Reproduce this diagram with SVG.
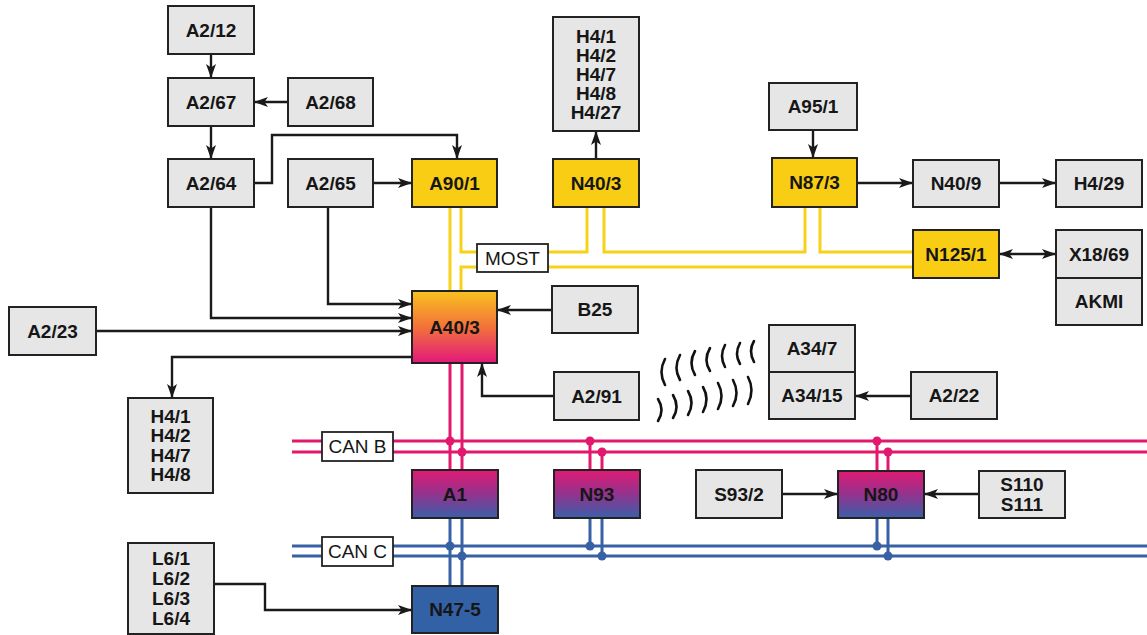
<svg xmlns="http://www.w3.org/2000/svg" width="1147" height="635" viewBox="0 0 1147 635">
<defs>
<linearGradient id="gA40" x1="0" y1="0" x2="0" y2="1">
<stop offset="0" stop-color="#f8c21e"/><stop offset="0.5" stop-color="#f2723a"/><stop offset="1" stop-color="#e3187c"/>
</linearGradient>
<linearGradient id="gCan" x1="0" y1="0" x2="0" y2="1">
<stop offset="0" stop-color="#e01a72"/><stop offset="0.5" stop-color="#93338e"/><stop offset="1" stop-color="#3a5fa9"/>
</linearGradient>
<marker id="arr" viewBox="0 0 14 10" refX="14" refY="5" markerWidth="14" markerHeight="10" markerUnits="userSpaceOnUse" orient="auto-start-reverse">
<path d="M0,0 L14,5 L0,10 L3.5,5 Z" fill="#1a1a1a"/>
</marker>
</defs>
<style>
.box{stroke:#222;stroke-width:2}
.gray{fill:#e6e6e6}
.yel{fill:#f8cd14}
.lbl{fill:#fff;stroke:#222;stroke-width:1.8}
text{font-family:"Liberation Sans",Arial,sans-serif;fill:#161616;text-anchor:middle}
.b{font-weight:bold;font-size:19px}
.r{font-size:19px}
.con{fill:none;stroke:#1a1a1a;stroke-width:2.4}
.most{fill:none;stroke:#f7d21a;stroke-width:3}
.pink{fill:none;stroke:#e2186f;stroke-width:3}
.blue{fill:none;stroke:#3861a5;stroke-width:3}
.pd{fill:#e2186f}
.bd{fill:#3861a5}
.wave{fill:none;stroke:#111;stroke-width:2.6;stroke-linecap:round}
</style>
<rect width="1147" height="635" fill="#fff"/>

<g id="buses">
<path class="pink" d="M292,441 H1147 M292,452 H1147 M450,363 V470 M462,363 V470 M590,441 V470 M602,452 V470 M877,441 V471 M888,452 V471"/>
<g class="pd"><circle cx="450" cy="441" r="4.5"/><circle cx="462" cy="452" r="4.5"/><circle cx="590" cy="441" r="4.5"/><circle cx="602" cy="452" r="4.5"/><circle cx="877" cy="441" r="4.5"/><circle cx="888" cy="452" r="4.5"/></g>
<path class="blue" d="M292,546 H1147 M292,556 H1147 M450,518 V586 M462,518 V586 M590,518 V546 M602,518 V556 M877,518 V546 M888,518 V556"/>
<g class="bd"><circle cx="450" cy="546" r="4.5"/><circle cx="462" cy="556" r="4.5"/><circle cx="590" cy="546" r="4.5"/><circle cx="602" cy="556" r="4.5"/><circle cx="877" cy="546" r="4.5"/><circle cx="888" cy="556" r="4.5"/></g>
<path class="most" d="M450,207 V291 M461,207 V252 H477 M461,291 V267 H477 M548,252 H587 V207 M604,207 V252 H805 V207 M548,267 H913 M820,207 V252 H913"/>
</g>

<g id="connectors">
<path class="con" marker-end="url(#arr)" d="M211,54 V78"/>
<path class="con" marker-end="url(#arr)" d="M288,102 H254"/>
<path class="con" marker-end="url(#arr)" d="M211,126 V159"/>
<path class="con" marker-end="url(#arr)" d="M254,183 H272 V135 H457 V159"/>
<path class="con" marker-end="url(#arr)" d="M373,183 H412"/>
<path class="con" marker-end="url(#arr)" d="M211,207 V318 H412"/>
<path class="con" marker-end="url(#arr)" d="M328,207 V304 H412"/>
<path class="con" marker-end="url(#arr)" d="M96,331 H412"/>
<path class="con" marker-end="url(#arr)" d="M412,357 H172 V398"/>
<path class="con" marker-end="url(#arr)" d="M552,310 H497"/>
<path class="con" marker-end="url(#arr)" d="M554,396 H482 V363"/>
<path class="con" marker-end="url(#arr)" d="M596,159 V131"/>
<path class="con" marker-end="url(#arr)" d="M813,130 V158"/>
<path class="con" marker-end="url(#arr)" d="M857,183 H913"/>
<path class="con" marker-end="url(#arr)" d="M999,183 H1056"/>
<path class="con" marker-start="url(#arr)" marker-end="url(#arr)" d="M999,254 H1056"/>
<path class="con" marker-end="url(#arr)" d="M911,396 H855"/>
<path class="con" marker-end="url(#arr)" d="M782,494 H838"/>
<path class="con" marker-end="url(#arr)" d="M979,494 H924"/>
<path class="con" marker-end="url(#arr)" d="M214,584 H265 V610 H412"/>
</g>

<g id="waves">
<path class="wave" d="M665,359 q-7,13 0,26 M680,355 q-7,13 0,25 M695,351 q-7,12 0,24 M710,348 q-7,12 0,23 M725,345 q-6,11 0,22 M740,343 q-6,11 0,21 M754,341 q-6,10 0,21"/>
<path class="wave" d="M658,399 q7,11 0,22 M673,395 q7,12 0,23 M688,391 q7,12 0,24 M703,387 q7,12 0,25 M718,383 q7,13 0,26 M733,380 q7,13 0,26 M748,377 q7,13 0,27"/>
</g>

<g id="A2-12"><rect class="box gray" x="168" y="6" width="86" height="48"/><text class="b" x="211" y="36.8">A2/12</text></g>
<g id="A2-67"><rect class="box gray" x="168" y="78" width="86" height="48"/><text class="b" x="211" y="108.8">A2/67</text></g>
<g id="A2-68"><rect class="box gray" x="288" y="78" width="85" height="48"/><text class="b" x="330.5" y="108.8">A2/68</text></g>
<g id="A2-64"><rect class="box gray" x="168" y="159" width="86" height="48"/><text class="b" x="211" y="189.8">A2/64</text></g>
<g id="A2-65"><rect class="box gray" x="288" y="159" width="85" height="48"/><text class="b" x="330.5" y="189.8">A2/65</text></g>
<g id="A90-1"><rect class="box yel" x="412" y="159" width="85" height="48"/><text class="b" x="454.5" y="189.8">A90/1</text></g>
<g id="N40-3"><rect class="box yel" x="553" y="159" width="86" height="48"/><text class="b" x="596" y="189.8">N40/3</text></g>
<g id="H4-top"><rect class="box gray" x="553" y="17" width="86" height="114"/>
<text class="b" x="596" y="42.8">H4/1</text><text class="b" x="596" y="61.8">H4/2</text><text class="b" x="596" y="80.8">H4/7</text><text class="b" x="596" y="99.8">H4/8</text><text class="b" x="596" y="118.8">H4/27</text></g>
<g id="A95-1"><rect class="box gray" x="769" y="83" width="88" height="47"/><text class="b" x="813" y="113.3">A95/1</text></g>
<g id="N87-3"><rect class="box yel" x="772" y="158" width="85" height="49"/><text class="b" x="814.5" y="189.3">N87/3</text></g>
<g id="N40-9"><rect class="box gray" x="913" y="160" width="86" height="47"/><text class="b" x="956" y="190.3">N40/9</text></g>
<g id="H4-29"><rect class="box gray" x="1056" y="160" width="86" height="47"/><text class="b" x="1099" y="190.3">H4/29</text></g>
<g id="N125-1"><rect class="box yel" x="913" y="230" width="86" height="48"/><text class="b" x="956" y="260.8">N125/1</text></g>
<g id="X18-69"><rect class="box gray" x="1056" y="230" width="86" height="48"/><text class="b" x="1099" y="260.8">X18/69</text></g>
<g id="AKMI"><rect class="box gray" x="1056" y="278" width="86" height="47"/><text class="b" x="1099" y="308.3">AKMI</text></g>
<g id="MOST"><rect class="lbl" x="477" y="244" width="71" height="28"/><text class="r" x="512.5" y="264.8">MOST</text></g>
<g id="A40-3"><rect class="box" fill="url(#gA40)" x="412" y="291" width="85" height="72"/><text class="b" x="454.5" y="333.8">A40/3</text></g>
<g id="B25"><rect class="box gray" x="552" y="286" width="86" height="47"/><text class="b" x="595" y="316.3">B25</text></g>
<g id="A2-23"><rect class="box gray" x="9" y="307" width="87" height="48"/><text class="b" x="52.5" y="337.8">A2/23</text></g>
<g id="H4-left"><rect class="box gray" x="128" y="398" width="85" height="95"/>
<text class="b" x="170.5" y="422.8">H4/1</text><text class="b" x="170.5" y="442.3">H4/2</text><text class="b" x="170.5" y="461.8">H4/7</text><text class="b" x="170.5" y="481.3">H4/8</text></g>
<g id="A2-91"><rect class="box gray" x="554" y="372" width="85" height="48"/><text class="b" x="596.5" y="402.8">A2/91</text></g>
<g id="A34-7"><rect class="box gray" x="769" y="325" width="86" height="47"/><text class="b" x="812" y="355.3">A34/7</text></g>
<g id="A34-15"><rect class="box gray" x="769" y="372" width="86" height="47"/><text class="b" x="812" y="402.3">A34/15</text></g>
<g id="A2-22"><rect class="box gray" x="911" y="372" width="86" height="47"/><text class="b" x="954" y="402.3">A2/22</text></g>
<g id="CAN-B"><rect class="lbl" x="322" y="432" width="71" height="29"/><text class="r" x="357.5" y="453.3">CAN B</text></g>
<g id="A1"><rect class="box" fill="url(#gCan)" x="412" y="470" width="86" height="48"/><text class="b" x="455" y="500.8">A1</text></g>
<g id="N93"><rect class="box" fill="url(#gCan)" x="554" y="470" width="86" height="48"/><text class="b" x="597" y="500.8">N93</text></g>
<g id="S93-2"><rect class="box gray" x="696" y="470" width="86" height="48"/><text class="b" x="739" y="500.8">S93/2</text></g>
<g id="N80"><rect class="box" fill="url(#gCan)" x="838" y="471" width="86" height="47"/><text class="b" x="881" y="501.3">N80</text></g>
<g id="S110"><rect class="box gray" x="979" y="471" width="86" height="47"/><text class="b" x="1022" y="491.3">S110</text><text class="b" x="1022" y="511.3">S111</text></g>
<g id="CAN-C"><rect class="lbl" x="322" y="537" width="71" height="29"/><text class="r" x="357.5" y="558.3">CAN C</text></g>
<g id="L6"><rect class="box gray" x="128" y="543" width="86" height="91"/>
<text class="b" x="171" y="565.3">L6/1</text><text class="b" x="171" y="585.3">L6/2</text><text class="b" x="171" y="605.3">L6/3</text><text class="b" x="171" y="625.3">L6/4</text></g>
<g id="N47-5"><rect class="box" fill="#3361a6" x="412" y="586" width="86" height="47"/><text class="b" x="455" y="616.3">N47-5</text></g>
</svg>
